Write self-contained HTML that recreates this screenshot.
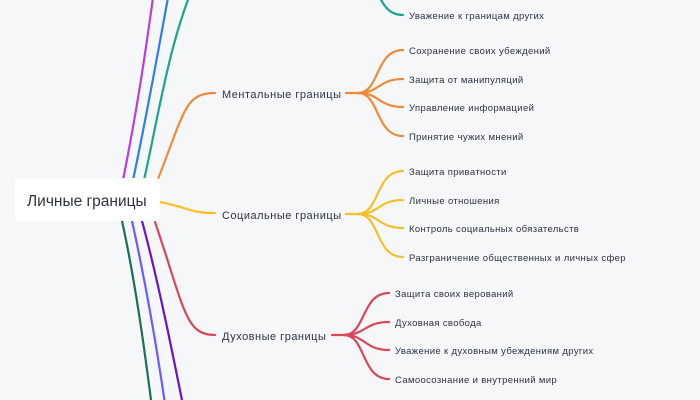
<!DOCTYPE html>
<html><head><meta charset="utf-8"><style>
html,body{margin:0;padding:0;background:#f6f7f9;width:700px;height:400px;overflow:hidden;}
svg{display:block;font-family:"Liberation Sans","DejaVu Sans",sans-serif;}
</style></head><body>
<svg width="700" height="400" viewBox="0 0 700 400" xmlns="http://www.w3.org/2000/svg">
<rect width="700" height="400" fill="#f6f7f9"/>
<g fill="none" stroke-width="2.2" stroke-linecap="round">
<path d="M123,180 C135,120 145,60 158,-40" stroke="#b83fd8"/>
<path d="M133,180 C148,110 160,40 175,-40" stroke="#2f7fe6"/>
<path d="M144,180 C160,110 170,30 205,-40" stroke="#1ca58e"/>
<path d="M360,-40 C380,-10 380,15 403,15" stroke="#1ca58e"/>
<path d="M122,221 C135,280 145,350 156,440" stroke="#1e6e55"/>
<path d="M132,221 C145,280 158,350 170,440" stroke="#6a5cff"/>
<path d="M142,221 C158,280 172,350 190,440" stroke="#6a12c9"/>
<path d="M158,179 C185,110 185,93 215,93" stroke="#ef8a3a"/>
<path d="M160,202 C190,208 190,213 215,213" stroke="#f5c02a"/>
<path d="M155,222 C185,310 185,335 215,335" stroke="#d9475b"/>
<g stroke="#ef8a3a">
<path d="M346,93 H358"/>
<path d="M358,93 C380,93 375,50 403,50"/>
<path d="M358,93 C380,93 378,79 403,79"/>
<path d="M358,93 C380,93 378,107 403,107"/>
<path d="M358,93 C380,93 375,136 403,136"/>
</g>
<g stroke="#f5c02a">
<path d="M346,214 H358"/>
<path d="M358,214 C380,214 375,171 403,171"/>
<path d="M358,214 C380,214 378,200 403,200"/>
<path d="M358,214 C380,214 378,228 403,228"/>
<path d="M358,214 C380,214 375,257 403,257"/>
</g>
<g stroke="#d9475b">
<path d="M332,335 H344"/>
<path d="M344,335 C366,335 361,293 389,293"/>
<path d="M344,335 C366,335 364,322 389,322"/>
<path d="M344,335 C366,335 364,350 389,350"/>
<path d="M344,335 C366,335 361,379 389,379"/>
</g>
</g>
<rect x="15" y="178" width="145" height="43" rx="4" fill="#fff"/>
<g fill="#2d3340">
<text x="27" y="206" font-size="15.5">Личные границы</text>
<g font-size="11" letter-spacing="0.5">
<text x="222" y="98">Ментальные границы</text>
<text x="222" y="219">Социальные границы</text>
<text x="222" y="340">Духовные границы</text>
</g>
<g font-size="9.5" letter-spacing="0.35">
<text x="409" y="19">Уважение к границам других</text>
<text x="409" y="54">Сохранение своих убеждений</text>
<text x="409" y="83">Защита от манипуляций</text>
<text x="409" y="111">Управление информацией</text>
<text x="409" y="140">Принятие чужих мнений</text>
<text x="409" y="175">Защита приватности</text>
<text x="409" y="204">Личные отношения</text>
<text x="409" y="232">Контроль социальных обязательств</text>
<text x="409" y="261">Разграничение общественных и личных сфер</text>
<text x="395" y="297">Защита своих верований</text>
<text x="395" y="326">Духовная свобода</text>
<text x="395" y="354">Уважение к духовным убеждениям других</text>
<text x="395" y="383">Самоосознание и внутренний мир</text>
</g>
</g>
</svg>
</body></html>
